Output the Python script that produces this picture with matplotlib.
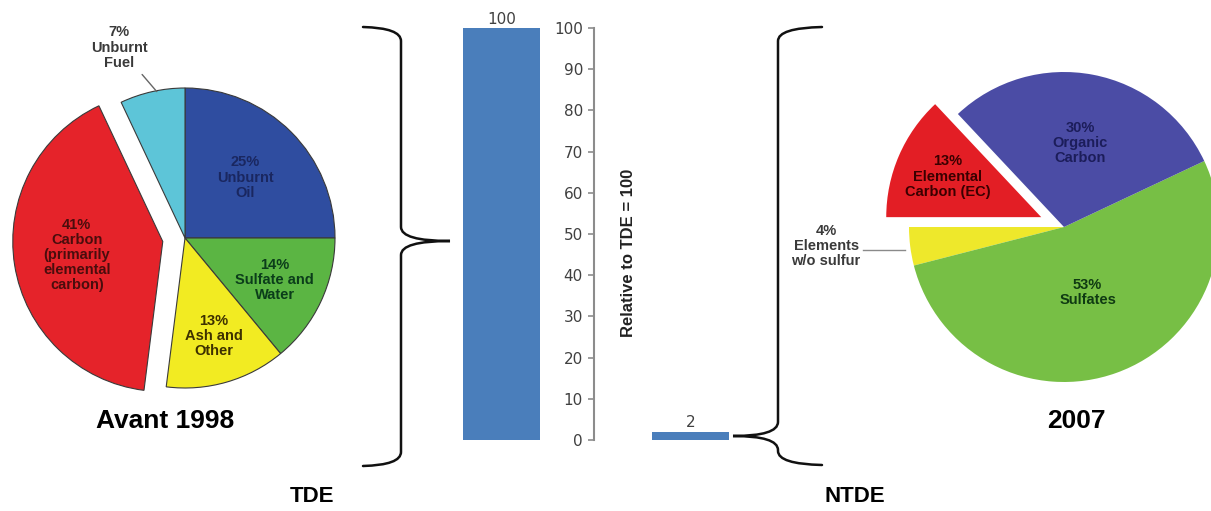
import numpy as np
import matplotlib
matplotlib.use("Agg")
import matplotlib.pyplot as plt
from matplotlib.path import Path
from matplotlib.patches import PathPatch

# --- data ---
old_names = ["Unburnt\nOil", "Sulfate and\nWater", "Ash and\nOther",
             "Carbon\n(primarily\nelemental\ncarbon)", "Unburnt\nFuel"]
old_pct = [25, 14, 13, 41, 7]
old_colors = ["#2f4da0", "#5bb543", "#f2eb22", "#e5232a", "#5dc5d8"]
old_text = ["#1a2760", "#0b3d1a", "#3d3000", "#4a0d0d", "#3a3a3a"]

new_names = ["Elements\nw/o sulfur", "Sulfates", "Organic\nCarbon", "Elemental\nCarbon (EC)"]
new_pct = [4, 53, 30, 13]
new_colors = ["#eee82b", "#77bf45", "#4b4ca5", "#e31e25"]
new_text = ["#3a3a3a", "#0f3a12", "#1c1d5a", "#3a0000"]

bar_names = ["TDE", "NTDE"]
bar_values = [100, 2]
y_ticks = list(range(0, 101, 10))

W, H = 1211, 511
LABEL_FONT = ["Liberation Sans", "DejaVu Sans"]
TITLE_FONT = ["Liberation Sans", "DejaVu Sans"]

fig = plt.figure(figsize=(W / 100, H / 100), dpi=100)


def px_axes(cx, cy, half):
    # square axes centred on a pixel position (y measured from top)
    return fig.add_axes([(cx - half) / W, (H - cy - half) / H, 2 * half / W, 2 * half / H])


def wedge_point(w, frac):
    ang = np.deg2rad((w.theta1 + w.theta2) / 2)
    return w.center[0] + frac * w.r * np.cos(ang), w.center[1] + frac * w.r * np.sin(ang)


# ---- left pie (before 1998) ----
lim = 1.35
ax1 = px_axes(185, 238, 150 * lim)
w1, _ = ax1.pie(old_pct, colors=old_colors, startangle=90, counterclock=False,
                explode=[0, 0, 0, 0.15, 0],
                wedgeprops=dict(edgecolor="#3a3a3a", linewidth=0.8))
ax1.set_xlim(-lim, lim)
ax1.set_ylim(-lim, lim)
ax1.set_aspect("equal")
radii = [0.57, 0.66, 0.68, 0.58]
for w, v, n, c, rr in zip(w1[:4], old_pct[:4], old_names[:4], old_text[:4], radii):
    x, y = wedge_point(w, rr)
    ax1.text(x, y, f"{v}%\n{n}", ha="center", va="center", fontsize=10.5,
             fontweight="bold", color=c, family=LABEL_FONT, linespacing=1.1)
# outside label for the small cyan slice
ex, ey = wedge_point(w1[4], 1.0)
ax1.annotate(f"{old_pct[4]}%\n{old_names[4]}", xy=(ex + 0.03, ey), xytext=(-0.44, 1.27),
             ha="center", va="center", fontsize=10.5, fontweight="bold",
             color=old_text[4], family=LABEL_FONT, linespacing=1.1,
             arrowprops=dict(arrowstyle="-", color="#666666", lw=1.0,
                             shrinkA=2, shrinkB=0), annotation_clip=False)

# ---- right pie (2007) ----
ax2 = px_axes(1064, 227, 155 * lim)
w2, _ = ax2.pie(new_pct, colors=new_colors, startangle=180, counterclock=True,
                explode=[0, 0, 0, 0.16], wedgeprops=dict(linewidth=0))
ax2.set_xlim(-lim, lim)
ax2.set_ylim(-lim, lim)
ax2.set_aspect("equal")
radii = [None, 0.45, 0.55, 0.66]
for w, v, n, c, rr in zip(w2[1:], new_pct[1:], new_names[1:], new_text[1:], radii[1:]):
    x, y = wedge_point(w, rr)
    ax2.text(x, y, f"{v}%\n{n}", ha="center", va="center", fontsize=10.5,
             fontweight="bold", color=c, family=LABEL_FONT, linespacing=1.1)
# leader line and outside label for the small yellow slice
ex, ey = wedge_point(w2[0], 1.0)
ax2.plot([ex - 0.035, -1.30], [-0.148, -0.148], color="#8a8a8a", lw=1.0, clip_on=False)
ax2.text(-1.535, -0.123, f"{new_pct[0]}%\n{new_names[0]}", ha="center", va="center",
         fontsize=10.5, fontweight="bold", color=new_text[0], family=LABEL_FONT,
         linespacing=1.1)

# ---- bar chart in the middle ----
x_left, x_right = 440, 760
scale = 189.0
axb = fig.add_axes([x_left / W, (H - 440) / H, (x_right - x_left) / W, 412 / H])
bars = axb.bar([0, 1], bar_values, width=0.407, color="#4a7ebb")
axb.bar_label(bars, padding=1, fontsize=11, color="#404040")
axb.set_xlim((x_left - 501.5) / scale, (x_right - 501.5) / scale)
axb.set_ylim(0, 100)
axb.set_yticks(y_ticks)
for s in ["top", "right", "bottom"]:
    axb.spines[s].set_visible(False)
axb.spines["left"].set_position(("data", (594 - 501.5) / scale))
axb.spines["left"].set_color("#8c8c8c")
axb.spines["left"].set_linewidth(1.5)
axb.tick_params(axis="y", length=4, width=1.2, color="#8c8c8c", labelsize=11,
                labelcolor="#404040", pad=4)
axb.set_xticks([])
axb.patch.set_alpha(0)
axb.set_ylabel("Relative to TDE = 100", fontsize=12, fontweight="bold", color="#222222",
               family=LABEL_FONT)
axb.yaxis.set_label_coords((636 - x_left) / (x_right - x_left), (440 - 253) / 412)

# ---- braces and captions in pixel space ----
ov = fig.add_axes([0, 0, 1, 1], zorder=-1)
ov.set_xlim(0, W)
ov.set_ylim(H, 0)
ov.axis("off")


def brace(xe, xv, y0, y1, xt, yt, r=14):
    verts = [(xe, y0), (xv, y0 + 1), (xv, y0 + r),
             (xv, yt - r), (xv, yt), (xt, yt),
             (xv, yt), (xv, yt + r),
             (xv, y1 - r), (xv, y1 - 1), (xe, y1)]
    codes = [Path.MOVETO, Path.CURVE3, Path.CURVE3,
             Path.LINETO, Path.CURVE3, Path.CURVE3,
             Path.CURVE3, Path.CURVE3,
             Path.LINETO, Path.CURVE3, Path.CURVE3]
    ov.add_patch(PathPatch(Path(verts, codes), fill=False, lw=1.8, edgecolor="#111111",
                           capstyle="round"))


brace(363, 401, 27, 466, 450, 241)
brace(822, 778, 27, 465, 733, 436)

ov.text(165, 421, "Avant 1998", ha="center", va="center", fontsize=19,
        fontweight="bold", family=TITLE_FONT)
ov.text(1076, 421, "2007", ha="center", va="center", fontsize=19,
        fontweight="bold", family=TITLE_FONT)
for name, xpos in zip(bar_names, [312, 855]):
    ov.text(xpos, 497, name, ha="center", va="center", fontsize=16,
            fontweight="bold", family=TITLE_FONT)

fig.savefig("out.png", dpi=100)
